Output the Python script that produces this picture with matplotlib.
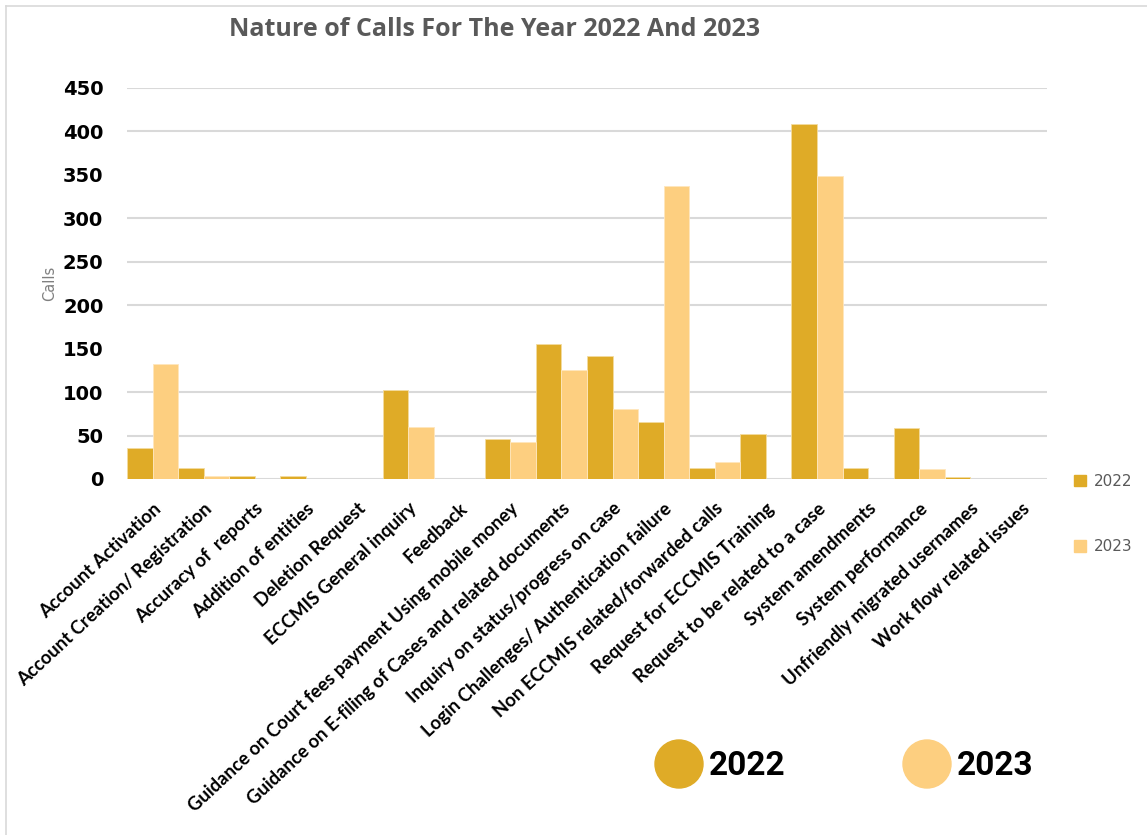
import numpy as np
import matplotlib
matplotlib.use("Agg")
import matplotlib.pyplot as plt
from matplotlib.patches import Ellipse, Rectangle
from matplotlib.lines import Line2D

# categories and call counts
categories = [
    "Account Activation",
    "Account Creation/ Registration",
    "Accuracy of  reports",
    "Addition of entities",
    "Deletion Request",
    "ECCMIS General inquiry",
    "Feedback",
    "Guidance on Court fees payment Using mobile money",
    "Guidance on E-filing of Cases and related documents",
    "Inquiry on status/progress on case",
    "Login Challenges/ Authentication failure",
    "Non ECCMIS related/forwarded calls",
    "Request for ECCMIS Training",
    "Request to be related to a case",
    "System amendments",
    "System performance",
    "Unfriendly migrated usernames",
    "Work flow related issues",
]
calls_2022 = [36, 13, 4, 4, 0, 102, 0, 46, 155, 142, 66, 13, 52, 409, 13, 59, 2, 0]
calls_2023 = [132, 4, 0, 0, 0, 60, 0, 43, 126, 80, 337, 20, 0, 349, 0, 11, 0, 0]
yticks = [0, 50, 100, 150, 200, 250, 300, 350, 400, 450]
years = ["2022", "2023"]

c22 = "#DFAB27"
c23 = "#FDCF80"
W, H = 1147, 835

fig = plt.figure(figsize=(W / 100, H / 100), dpi=100)
ax = fig.add_axes([127 / W, 1 - 479 / H, 920 / W, 391 / H])

x = np.arange(len(categories))
bw = 0.5
ax.bar(x - bw / 2, calls_2022, bw, color=c22, edgecolor="#F3DCA0", linewidth=0.6, zorder=3)
ax.bar(x + bw / 2, calls_2023, bw, color=c23, edgecolor="#FFE6BD", linewidth=0.6, zorder=3)

ax.set_xlim(-0.5, len(categories) - 0.5)
ax.set_ylim(0, 450)
# the 150 and 350 gridlines are not visible in the original picture
grid_levels = [v for v in yticks if v not in (150, 350)]
ax.hlines(grid_levels, -0.5, len(categories) - 0.5, colors="#D9D9D9", lw=1.5, zorder=1)

for s in ax.spines.values():
    s.set_visible(False)

ax.set_yticks(yticks)
ax.set_yticklabels([str(v) for v in yticks], fontsize=14, fontweight="bold", family="DejaVu Sans")
ax.tick_params(axis="y", length=0, pad=17)
ax.set_xticks(x)
ax.set_xticklabels(categories, rotation=43, ha="right", va="top", rotation_mode="anchor",
                   fontsize=13.3, fontweight="bold", family="Lato")
ax.tick_params(axis="x", length=0, pad=15)

ax.set_ylabel("Calls", color="#7F7F7F", fontsize=10.5, labelpad=4)

fig.text(495 / W, 1 - 30 / H, "Nature of Calls For The Year 2022 And 2023",
         ha="center", va="center", fontsize=18, fontweight="bold", color="#595959", family="Open Sans")

# right-hand legend
handles = [Rectangle((0, 0), 1, 1, color=c22), Rectangle((0, 0), 1, 1, color=c23)]
leg = fig.legend(handles, years, loc="upper left", bbox_to_anchor=(1060 / W, 1 - 460 / H),
                 frameon=False, fontsize=11, handlelength=0.8, handleheight=0.8,
                 handletextpad=0.5, labelspacing=3.3)
for t in leg.get_texts():
    t.set_color("#595959")

# big legend at the bottom
for cx, col, lab in [(679, c22, years[0]), (927, c23, years[1])]:
    fig.add_artist(Ellipse((cx / W, 1 - 764 / H), 48 / W, 48 / H, transform=fig.transFigure,
                           color=col))
    fig.text((cx + 30) / W, 1 - 766 / H, lab, ha="left", va="center", fontsize=24,
             fontweight="bold", family="Roboto")

# outer chart border (top and left)
fig.add_artist(Line2D([6 / W, 1], [1 - 6 / H, 1 - 6 / H], transform=fig.transFigure,
                      color="#D9D9D9", lw=1.2))
fig.add_artist(Line2D([6 / W, 6 / W], [0, 1 - 6 / H], transform=fig.transFigure,
                      color="#D9D9D9", lw=1.2))

fig.savefig("out.png", dpi=100)
